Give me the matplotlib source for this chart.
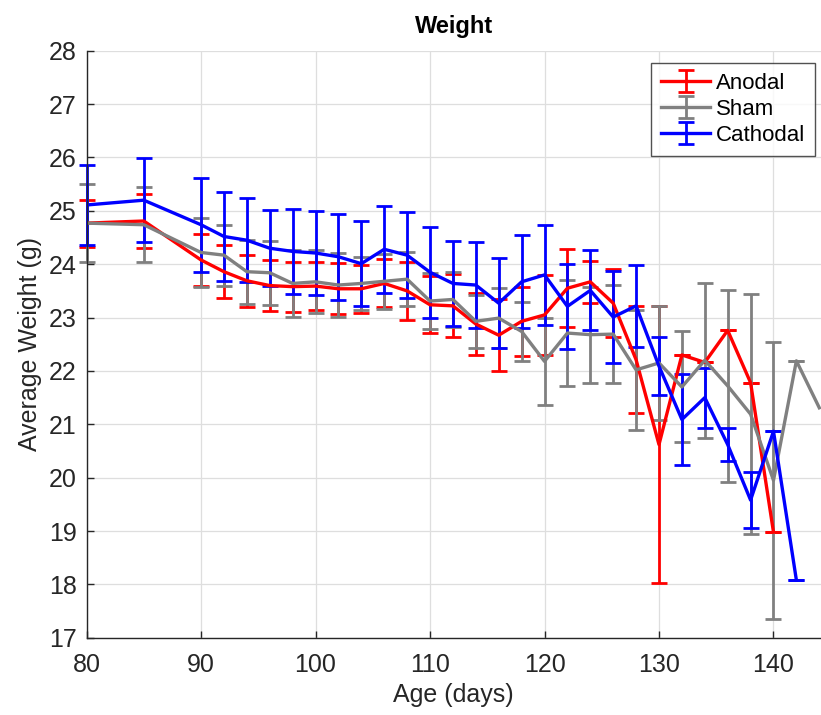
import numpy as np
import matplotlib.pyplot as plt

plt.rcParams['font.family'] = ['Liberation Sans', 'DejaVu Sans']

# ---------------- dados ---------------- #
age_anodal = [80, 85, 90, 92, 94, 96, 98, 100, 102, 104, 106, 108, 110, 112,
              114, 116, 118, 120, 122, 124, 126, 128, 130, 132, 134, 136, 138, 140]
w_anodal = [24.77, 24.81, 24.08, 23.86, 23.69, 23.60, 23.58, 23.59, 23.54, 23.54,
            23.64, 23.50, 23.24, 23.22, 22.88, 22.67, 22.93, 23.05, 23.55, 23.67,
            23.27, 22.21, 20.62, 22.30, 22.16, 22.76, 21.78, 18.98]
e_anodal = [0.44, 0.51, 0.48, 0.50, 0.49, 0.47, 0.47, 0.45, 0.48, 0.45,
            0.45, 0.55, 0.53, 0.59, 0.58, 0.68, 0.65, 0.75, 0.73, 0.39,
            0.64, 1.00, 2.60, 0.0, 0.0, 0.0, 0.0, 0.0]

age_sham = [80, 85, 90, 92, 94, 96, 98, 100, 102, 104, 106, 108, 110, 112,
            114, 116, 118, 120, 122, 124, 126, 128, 130, 132, 134, 136, 138, 140,
            142, 144]
w_sham = [24.77, 24.74, 24.22, 24.17, 23.86, 23.84, 23.64, 23.67, 23.61, 23.64,
          23.68, 23.72, 23.31, 23.34, 22.93, 22.99, 22.74, 22.18, 22.71, 22.68,
          22.69, 22.02, 22.15, 21.70, 22.20, 21.72, 21.19, 19.95, 22.19, 21.31]
e_sham = [0.73, 0.70, 0.65, 0.57, 0.60, 0.60, 0.63, 0.59, 0.60, 0.50,
          0.52, 0.50, 0.52, 0.52, 0.50, 0.56, 0.56, 0.82, 1.00, 0.90,
          0.92, 1.12, 1.06, 1.04, 1.45, 1.80, 2.25, 2.60, 0.0, np.nan]

age_cathodal = [80, 85, 90, 92, 94, 96, 98, 100, 102, 104, 106, 108, 110, 112,
                114, 116, 118, 120, 122, 124, 126, 128, 130, 132, 134, 136, 138,
                140, 142]
w_cathodal = [25.11, 25.20, 24.74, 24.52, 24.45, 24.30, 24.24, 24.21, 24.14, 24.01,
              24.28, 24.17, 23.85, 23.64, 23.61, 23.27, 23.67, 23.80, 23.21, 23.51,
              23.01, 23.22, 22.09, 21.09, 21.50, 20.62, 19.58, 20.87, 18.08]
e_cathodal = [0.75, 0.79, 0.88, 0.83, 0.79, 0.71, 0.79, 0.79, 0.81, 0.80,
              0.81, 0.80, 0.85, 0.80, 0.80, 0.84, 0.87, 0.94, 0.80, 0.75,
              0.86, 0.77, 0.54, 0.86, 0.56, 0.31, 0.52, 0.0, 0.0]

# ---------------- figura ---------------- #
fig = plt.figure(figsize=(8.21, 7.15), dpi=100)
ax = fig.add_axes([0.1054, 0.108, 0.8946, 0.821])

cor_txt = '#262626'
estilo = dict(linewidth=2.4, elinewidth=2.0, capsize=6, capthick=2.0)
series = [
    (age_anodal, w_anodal, e_anodal, '#ff0000', 'Anodal'),
    (age_sham, w_sham, e_sham, '#808080', 'Sham'),
    (age_cathodal, w_cathodal, e_cathodal, '#0000ff', 'Cathodal'),
]
for x, y, e, c, nome in series:
    cont = ax.errorbar(x, y, yerr=e, color=c, label=nome, **estilo)
    for art in cont.lines[1] + cont.lines[2]:
        art.set_clip_on(False)

ax.set_xlim(80, 144.15)
ax.set_ylim(17, 28)
ax.set_xticks(np.arange(80, 141, 10))
ax.set_yticks(np.arange(17, 29, 1))
ax.grid(True, color='#dedede', linewidth=0.9)
ax.set_axisbelow(True)

for s in ['top', 'right']:
    ax.spines[s].set_visible(False)
for s in ['left', 'bottom']:
    ax.spines[s].set_color(cor_txt)
    ax.spines[s].set_linewidth(1.0)
ax.tick_params(direction='in', length=5, width=1.0, colors=cor_txt, labelsize=18)
ax.tick_params(axis='x', pad=11)
ax.tick_params(axis='y', pad=7)

ax.set_title('Weight', fontsize=17, fontweight='bold', pad=13)
ax.set_xlabel('Age (days)', fontsize=18, color=cor_txt, labelpad=4)
ax.set_ylabel('Average Weight (g)', fontsize=18, color=cor_txt, labelpad=5)

leg = ax.legend(loc='upper right', bbox_to_anchor=(0.992, 0.979), fontsize=16,
                frameon=True, fancybox=False, handlelength=2.2, handletextpad=0.25,
                borderpad=0.45, labelspacing=0.22, borderaxespad=0.0)
leg.get_frame().set_edgecolor(cor_txt)
leg.get_frame().set_linewidth(1.0)

fig.savefig('out.png', dpi=100)
